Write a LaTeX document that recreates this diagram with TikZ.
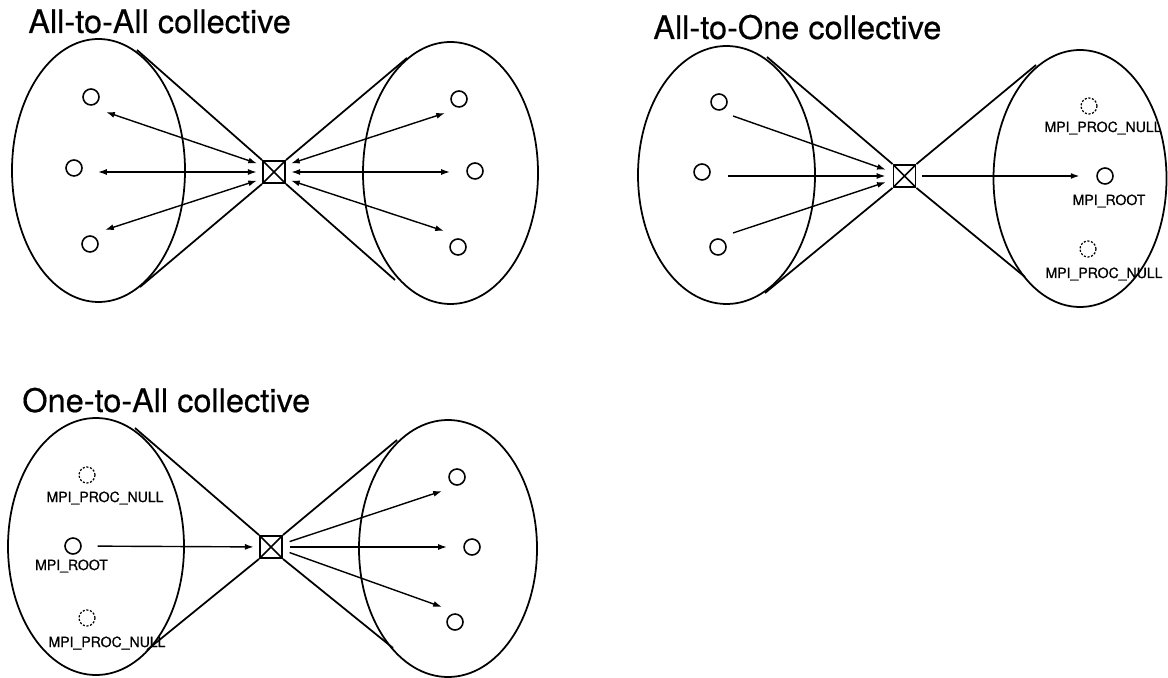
\documentclass[tikz,border=0pt]{standalone}
\usepackage{fontspec}
\setmainfont{TeX Gyre Heros}
\usetikzlibrary{arrows.meta}

\tikzset{
	proc/.style={circle, draw, line width=0.9pt, minimum size=0.32cm, inner sep=0pt},
	nullproc/.style={proc, line width=0.7pt, dash pattern=on 1.2pt off 0.9pt},
	coll/.style={draw, line width=1.1pt, minimum size=0.44cm, inner sep=0pt,
		path picture={\draw [line width=0.9pt]
			(path picture bounding box.north west) -- (path picture bounding box.south east)
			(path picture bounding box.north east) -- (path picture bounding box.south west);}},
	commgroup/.style={line width=1pt},
	msg/.style={line width=0.8pt, >={Latex[length=5pt,width=3.4pt]}},
	heading/.style={anchor=base west, inner sep=0pt, font=\fontsize{18.5}{22}\selectfont\addfontfeatures{FakeBold=0.4}},
	rankname/.style={anchor=base, inner sep=0pt, font=\fontsize{8}{9}\selectfont\addfontfeatures{FakeBold=0.8}},
}

\begin{document}
\begin{tikzpicture}[x=0.02cm, y=-0.02cm]
	\useasboundingbox (0,0) rectangle (1168,678);
	% all-to-all
		\node [heading] (t1) at (28,33) {All-to-All collective};
		\draw [commgroup] (98.5,170.5) ellipse [x radius=86.5, y radius=131.5];
		\draw [commgroup] (450.5,173) ellipse [x radius=87.5, y radius=131];
		\node [coll] (box1) at (274,172) {};
		\node [proc] (p11) at (91,97) {};
		\node [proc] (p12) at (74,168) {};
		\node [proc] (p13) at (90,244) {};
		\node [proc] (q11) at (459,99) {};
		\node [proc] (q12) at (475,171) {};
		\node [proc] (q13) at (458,247) {};
		% group outlines
			\coordinate (u11) at (137,50);
			\coordinate (u12) at (140,287);
			\coordinate (v11) at (407,58);
			\coordinate (v12) at (395,280);
			\draw [commgroup] (u11) -- (box1.north west) (u12) -- (box1.south west)
				(v11) -- (box1.north east) (v12) -- (box1.south east);
		% messages
			\coordinate (e11) at (106,112);
			\coordinate (e12) at (98,172);
			\coordinate (e13) at (105,230);
			\coordinate (f11) at (445,113);
			\coordinate (f12) at (450,172);
			\coordinate (f13) at (444,231);
			\foreach \e/\a in {e11/150,e12/180,e13/210,f11/30,f12/0,f13/-30}
				\draw [msg,<->,shorten >=3pt] (\e) -- (box1.\a);
	% all-to-one
		\node [heading] (t2) at (653,39) {All-to-One collective};
		\draw [commgroup] (726.5,175) ellipse [x radius=88.5, y radius=129];
		\draw [commgroup] (1080,178.5) ellipse [x radius=86.5, y radius=128.5];
		\node [coll] (box2) at (904.5,176) {};
		\node [proc] (p21) at (719,102) {};
		\node [proc] (p22) at (702,172) {};
		\node [proc] (p23) at (718,247) {};
		\node [nullproc] (n21) at (1089,106) {};
		\node [proc] (root2) at (1105,176) {};
		\node [nullproc] (n22) at (1088,249) {};
		\node [rankname] (l21) at (1103,132) {MPI\_PROC\_NULL};
		\node [rankname] (l22) at (1109,205) {MPI\_ROOT};
		\node [rankname] (l23) at (1104,278) {MPI\_PROC\_NULL};
		% group outlines
			\coordinate (u21) at (767,57);
			\coordinate (u22) at (765,293);
			\coordinate (v21) at (1036,65);
			\coordinate (v22) at (1025,277);
			\draw [commgroup] (u21) -- (box2.north west) (u22) -- (box2.south west)
				(v21) -- (box2.north east) (v22) -- (box2.south east);
		% messages
			\coordinate (e21) at (733,116);
			\coordinate (e22) at (728,176);
			\coordinate (e23) at (733,233);
			\foreach \e/\a in {e21/162,e22/180,e23/198}
				\draw [msg,->,shorten >=4pt] (\e) -- (box2.\a);
			\draw [msg,->,shorten <=3pt,shorten >=9.5pt] (box2) -- (root2);
	% one-to-all
		\node [heading] (t3) at (22,412) {One-to-All collective};
		\draw [commgroup] (96,546.5) ellipse [x radius=88, y radius=128.5];
		\draw [commgroup] (448,548.5) ellipse [x radius=89, y radius=128.5];
		\node [coll] (box3) at (271,547) {};
		\node [nullproc] (n31) at (87,475) {};
		\node [proc] (root3) at (73,546) {};
		\node [nullproc] (n32) at (87,618) {};
		\node [rankname] (l31) at (105,502) {MPI\_PROC\_NULL};
		\node [rankname] (l32) at (71.5,570) {MPI\_ROOT};
		\node [rankname] (l33) at (107,647) {MPI\_PROC\_NULL};
		\node [proc] (q31) at (457,477) {};
		\node [proc] (q32) at (472,547) {};
		\node [proc] (q33) at (455,622) {};
		% group outlines
			\coordinate (u31) at (135,428);
			\coordinate (u32) at (147,650);
			\coordinate (v31) at (397,440);
			\coordinate (v32) at (393,648);
			\draw [commgroup] (u31) -- (box3.north west) (u32) -- (box3.south west)
				(v31) -- (box3.north east) (v32) -- (box3.south east);
		% messages
			\draw [msg,->,shorten <=9pt,shorten >=3pt] (root3) -- (box3);
			\coordinate (f31) at (442,491);
			\coordinate (f32) at (447,547);
			\coordinate (f33) at (442,607);
			\foreach \e/\a in {f31/15,f32/0,f33/-15}
				\draw [msg,->,shorten <=4pt] (box3.\a) -- (\e);
\end{tikzpicture}
\end{document}
